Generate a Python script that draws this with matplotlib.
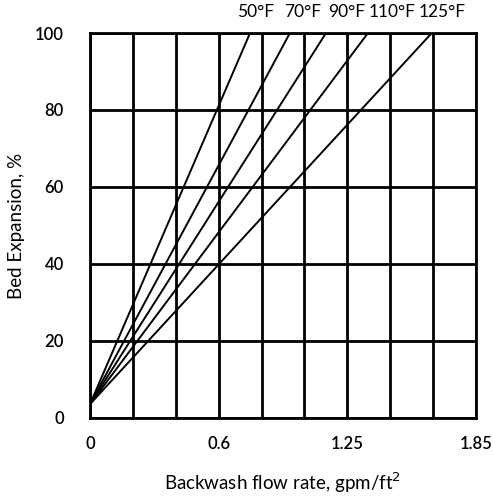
import numpy as np
import matplotlib
matplotlib.use('Agg')
import matplotlib.pyplot as plt

plt.rcParams['font.family'] = ['Lato', 'DejaVu Sans']

# temperature curves: straight lines from the common start to 100 % expansion
temps = ['50°F', '70°F', '90°F', '110°F', '125°F']
start_rate = 0.0
start_exp = 3.6
end_rate = [0.767, 0.958, 1.131, 1.332, 1.638]
end_exp = 100

x_max = 1.85
x_labels = ['0', '0.6', '1.25', '1.85']
y_ticks = [0, 20, 40, 60, 80, 100]

fig = plt.figure(figsize=(4.93, 4.97), dpi=100)
ax = fig.add_axes([0.1826, 0.159, 0.783, 0.7746])

# grid
for xg in np.linspace(0, x_max, 10):
    ax.axvline(xg, color='black', lw=2, zorder=1)
for yg in y_ticks:
    ax.axhline(yg, color='black', lw=2, zorder=1)

label_shift = [0.025, 0.06, 0.1, 0.115, 0.05]
for t, xe, dx in zip(temps, end_rate, label_shift):
    ax.plot([start_rate, xe], [start_exp, end_exp], color='black', lw=1.4, zorder=2)
    ax.text(xe + dx, 103.5, t, ha='center', va='bottom', fontsize=12.5)

ax.set_xlim(0, x_max)
ax.set_ylim(0, 100)
ax.set_xticks(np.linspace(0, x_max, 4))
ax.set_xticklabels(x_labels)
ax.set_yticks(y_ticks)
for s in ax.spines.values():
    s.set_linewidth(2)
ax.tick_params(length=0, labelsize=12, pad=13)
ax.tick_params(axis='y', pad=19)
for lab in ax.get_xticklabels() + ax.get_yticklabels():
    lab.set_fontweight('semibold')

ax.set_xlabel('Backwash flow rate, gpm/ft$^2$', fontsize=13.5, labelpad=13)
ax.set_ylabel('Bed Expansion, %', fontsize=13.5, labelpad=7)

plt.savefig('out.png', dpi=100)
